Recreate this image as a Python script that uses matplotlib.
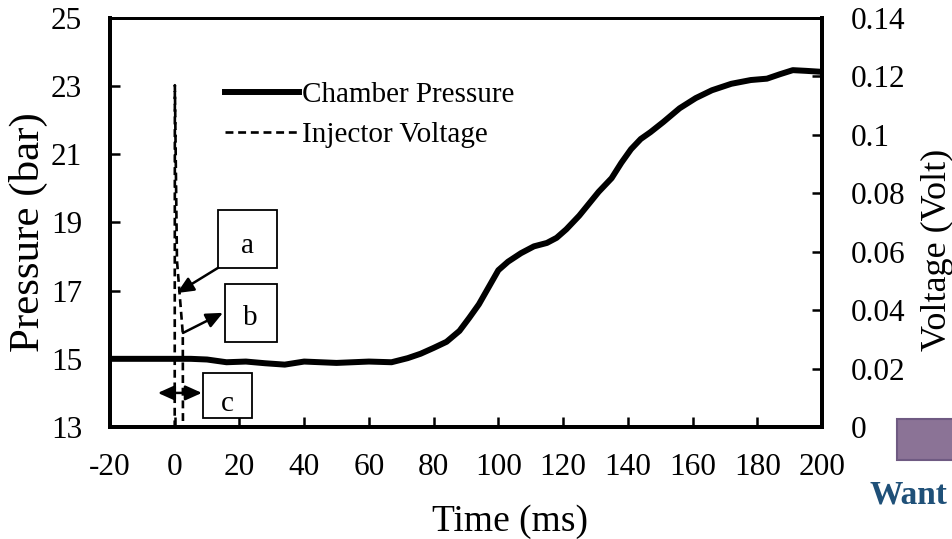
import matplotlib
matplotlib.use("Agg")
import matplotlib.pyplot as plt
from matplotlib.lines import Line2D
from matplotlib.patches import Rectangle

plt.rcParams["font.family"] = ["Liberation Serif", "DejaVu Serif"]

# ─── Data ─────────────────────────────────────────────────────────────────────
time_ms = [-20, -10, 0, 5, 10, 16, 22, 28, 34, 40, 45, 50, 55, 60, 67, 72, 76,
           80, 84, 88, 91, 94, 97, 100, 103, 107, 111, 115, 118, 121, 125, 128,
           131, 135, 138, 141, 144, 147, 151, 156, 161, 166, 172, 178, 183,
           187, 191, 195, 200]
pressure_bar = [15.0, 15.0, 15.0, 15.0, 14.98, 14.9, 14.92, 14.87, 14.83,
                14.92, 14.9, 14.88, 14.9, 14.92, 14.9, 15.02, 15.15, 15.32,
                15.5, 15.82, 16.2, 16.6, 17.1, 17.6, 17.85, 18.1, 18.3, 18.4,
                18.55, 18.8, 19.2, 19.55, 19.9, 20.3, 20.75, 21.15, 21.45,
                21.65, 21.95, 22.35, 22.65, 22.88, 23.07, 23.18, 23.22, 23.35,
                23.47, 23.45, 23.42]

volt_time_ms = [-20, 0, 0.05, 0.7, 2.5, 2.55, 200]
voltage_v = [0, 0, 0.117, 0.057, 0.032, 0, 0]

x_ticks = list(range(-20, 201, 20))
p_ticks = list(range(13, 26, 2))
v_ticks = [0, 0.02, 0.04, 0.06, 0.08, 0.1, 0.12, 0.14]
v_tick_labels = ["0", "0.02", "0.04", "0.06", "0.08", "0.1", "0.12", "0.14"]

DASH = (0, (3, 1.8))

# ─── Figure ───────────────────────────────────────────────────────────────────
fig = plt.figure(figsize=(9.53, 5.39), dpi=100)
ax = fig.add_axes([0.1154, 0.2078, 0.7471, 0.7588])
ax2 = ax.twinx()

ax.plot(time_ms, pressure_bar, color="black", lw=4.3,
        solid_capstyle="butt", solid_joinstyle="round", zorder=3)
ax2.plot(volt_time_ms, voltage_v, color="black", lw=1.9,
         linestyle=DASH, zorder=3)

ax.set_xlim(-20, 200)
ax.set_ylim(13, 25)
ax2.set_ylim(0, 0.14)
ax.set_xticks(x_ticks)
ax.set_xticklabels([str(t) for t in x_ticks])
ax.set_yticks(p_ticks)
ax2.set_yticks(v_ticks)
ax2.set_yticklabels(v_tick_labels)

for a in (ax, ax2):
    for side in ("left", "right", "bottom"):
        a.spines[side].set_linewidth(2.8)
    a.spines["top"].set_linewidth(2.0)

ax.tick_params(axis="both", direction="in", length=7, width=1.8,
               labelsize=22.5)
ax.tick_params(axis="y", pad=20)
ax.tick_params(axis="x", pad=19)
ax2.tick_params(axis="y", direction="in", length=7, width=1.8,
                labelsize=22.5, pad=21)

ax.set_xlabel("Time (ms)", fontsize=27)
ax.xaxis.set_label_coords(0.562, -0.19)
ax.set_ylabel("Pressure (bar)", fontsize=31)
ax.yaxis.set_label_coords(-0.087, 0.477)
ax2.set_ylabel("Voltage (Volt)", fontsize=26)
ax2.yaxis.set_label_coords(1.139, 0.433)

# ─── Labelled boxes with arrows ───────────────────────────────────────────────
boxes = [
    ("a", 13.4, 17.67, 18.2, 1.70, 22.5, 18.3),
    ("b", 15.5, 15.49, 16.1, 1.71, 23.5, 16.2),
    ("c", 8.74, 13.26, 15.2, 1.32, 16.4, 13.68),
]
for letter, x0, y0, w, h, tx, ty in boxes:
    ax.add_patch(Rectangle((x0, y0), w, h, facecolor="white",
                           edgecolor="black", lw=1.3, zorder=4))
    ax.text(tx, ty, letter, fontsize=21, ha="center", va="center", zorder=5)

head = "head_length=1.0,head_width=0.45"
arrow_kw = dict(arrowstyle="-|>," + head, color="black", lw=1.8,
                shrinkA=0, shrinkB=0)
ax.annotate("", xy=(0.7, 16.93), xytext=(13.4, 17.67),
            arrowprops=arrow_kw, zorder=6)
ax.annotate("", xy=(14.9, 16.35), xytext=(2.56, 15.76),
            arrowprops=arrow_kw, zorder=6)
ax.annotate("", xy=(-5.2, 14.0), xytext=(8.4, 14.0),
            arrowprops=dict(arrowstyle="<|-|>," + head, color="black",
                            lw=1.8, shrinkA=0, shrinkB=0),
            zorder=6)

# ─── Legend ───────────────────────────────────────────────────────────────────
handles = [
    Line2D([], [], color="black", lw=4.3),
    Line2D([], [], color="black", lw=1.9, linestyle=DASH),
]
ax.legend(handles, ["Chamber Pressure", "Injector Voltage"],
          loc="upper left", bbox_to_anchor=(0.1615, 0.844), frameon=False,
          fontsize=21, handlelength=2.55, handletextpad=0.08,
          labelspacing=0.45, borderpad=0, borderaxespad=0)

# ─── Slide remnants at the lower right ────────────────────────────────────────
fig.patches.append(Rectangle((897 / 953, 1 - 460 / 539), 60 / 953, 41 / 539,
                             transform=fig.transFigure, facecolor="#8B7396",
                             edgecolor="#6F5A82", lw=1.5))
fig.text(870 / 953, 1 - 495 / 539, "Want", fontsize=24, fontweight="bold",
         color="#1F5078", ha="left", va="center")

fig.savefig("out.png", dpi=100)
